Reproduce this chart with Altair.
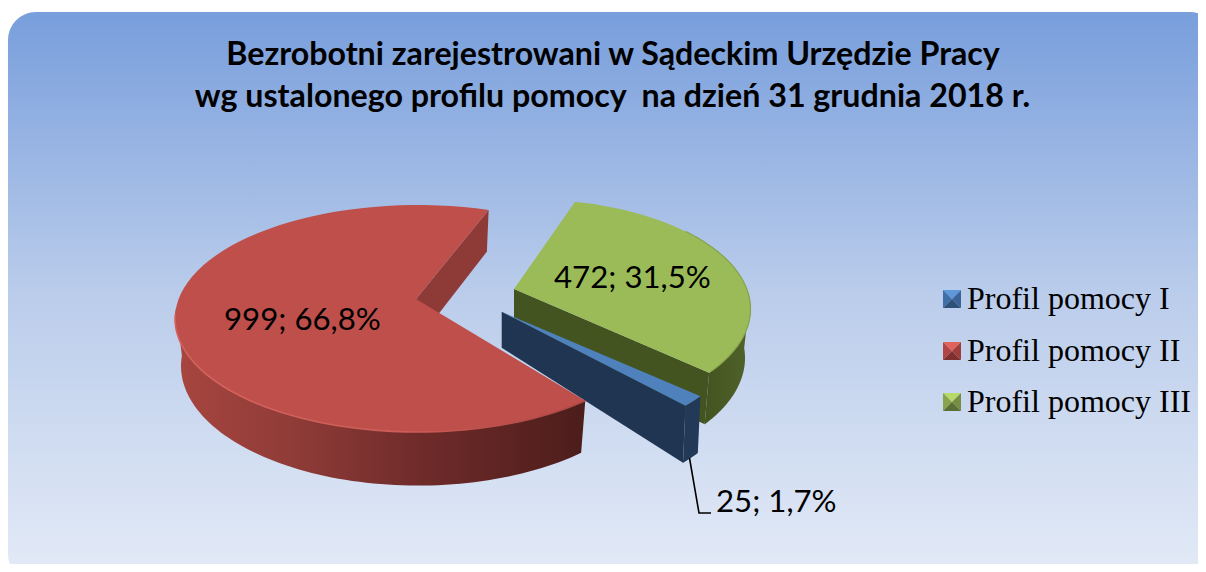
import numpy as np
import altair as alt

title_lines = ["Bezrobotni zarejestrowani w Sądeckim Urzędzie Pracy",
               "wg ustalonego profilu pomocy\u00a0 na dzień 31 grudnia 2018 r."]
series = ["Profil pomocy I", "Profil pomocy II", "Profil pomocy III"]
values = [25, 999, 472]
percents = ["1,7%", "66,8%", "31,5%"]

total = sum(values)
sweeps = [v / total * 360 for v in values]
labels = [f"{v}; {p}" for v, p in zip(values, percents)]

OX, OY = 8, 8
PROJ = dict(type="identity", scale=1, translate=[-OX, -OY])


def rim(e, t0, t1, n=80):
    t = np.radians(np.linspace(t0, t1, n))
    cx, cy, rx, ry = e
    return list(zip(cx + rx * np.sin(t), cy - ry * np.cos(t)))


def pts(p):
    return [[float(a), float(b)] for a, b in p]


def poly(p, fill, **kw):
    p = pts(p)
    p.append(p[0])
    feat = {"type": "Feature", "properties": {}, "geometry": {"type": "Polygon", "coordinates": [p]}}
    return alt.Chart(alt.Data(values=[feat])).mark_geoshape(fill=fill, strokeWidth=0, **kw).project(**PROJ)


def line(p, color, width, **kw):
    feat = {"type": "Feature", "properties": {}, "geometry": {"type": "LineString", "coordinates": pts(p)}}
    return alt.Chart(alt.Data(values=[feat])).mark_geoshape(
        filled=False, stroke=color, strokeWidth=width, **kw).project(**PROJ)


def grad(stops, x2=1, y2=0):
    return {"gradient": "linear", "x1": 0, "y1": 0, "x2": x2, "y2": y2,
            "stops": [{"offset": o, "color": c} for o, c in stops]}


def text(s, x, y, size, font, weight="normal", align="left"):
    return alt.Chart(alt.Data(values=[{"a": 1}])).mark_text(
        font=font, fontSize=size, fontWeight=weight, align=align, baseline="alphabetic", color="#000000"
    ).encode(x=alt.value(x - OX), y=alt.value(y - OY), text=alt.value(s))


bg = alt.Chart(alt.Data(values=[{"a": 1}])).mark_rect(
    clip=True, cornerRadius=28,
    fill=grad([(0, "#789EDC"), (0.5, "#BBCDEB"), (1, "#E4EBF7")], x2=0, y2=1),
).encode(x=alt.value(0), x2=alt.value(1210), y=alt.value(4), y2=alt.value(574))

# ---- slices: top-face ellipse, bottom ellipse, apex, start angle
red_t, red_b = (418, 318.5, 243, 113.5), (418, 366, 237, 119.6)
red_apex = (416, 299)
red_s = 136.5
red_e = red_s + sweeps[1]

grn_t, grn_b = (529, 309, 221.5, 109.6), (529, 358, 216, 114)
grn_apex = (514, 289)
grn_s = 12
grn_e = grn_s + sweeps[2]

blu_t, blu_b = (504, 333, 237, 113), (503, 387, 235, 118)
blu_apex = (501.7, 311.7)
blu_s = 124
blu_e = blu_s + sweeps[0]


def below(p, d):
    return (p[0], p[1] + d)


def at(e, t):
    return rim(e, t, t, 1)[0]


layers = [bg]

# green
layers.append(poly([grn_apex, at(grn_t, grn_e), at(grn_b, grn_e), below(grn_apex, 44)], "#445421"))
layers.append(poly(rim(grn_t, 85, grn_e) + rim(grn_b, grn_e, 85),
                   grad([(0, "#445421"), (1, "#50622A")])))
layers.append(poly([grn_apex] + rim(grn_t, grn_s, grn_e), "#9BBB59"))
layers.append(line(rim(grn_t, 45, grn_e - 1), "#86A34C", 1.2))

# red radial wall in the notch
layers.append(poly([red_apex, at(red_t, red_e), at(red_b, red_e), below(red_apex, 44)], "#8E3B38"))

# blue
layers.append(poly([blu_apex, at(blu_t, blu_e), at(blu_b, blu_e), below(blu_apex, 36)], "#1F3552"))
layers.append(poly(rim(blu_t, blu_s, blu_e) + rim(blu_b, blu_e, blu_s), "#223A58"))
layers.append(poly([blu_apex] + rim(blu_t, blu_s, blu_e), "#4F81BD"))

# red outer wall and face
layers.append(poly(rim(red_t, red_s, 275) + rim(red_b, 275, red_s),
                   grad([(0, "#A8453F"), (0.3, "#8E3B37"), (0.6, "#6F2B2A"), (1, "#4C1D1B")])))
layers.append(poly([red_apex] + rim(red_t, red_s, red_e), "#BE4F4B"))
layers.append(line(rim(red_t, red_s, 272),
                   grad([(0, "#D2635D"), (0.55, "#CC5D57"), (1, "#A84642")]), 1.6))

# leader line
layers.append(line([(689.5, 458), (699, 513), (711, 513)], "#000000", 1.6))

# title and data labels
BODY = "Lato"
layers.append(text(title_lines[0], 613, 65, 32.2, BODY, "bold", "center"))
layers.append(text(title_lines[1], 612.5, 107, 32.2, BODY, "bold", "center"))
layers.append(text(labels[1], 224, 330, 31.2, BODY))
layers.append(text(labels[2], 554, 288, 31.2, BODY))
layers.append(text(labels[0], 716, 512, 31.2, BODY))

# legend
legend_y = [299, 351, 402]
legend_cols = [("#5F98DA", "#3F6FA8", "#3A6499", "#2F5078"),
               ("#E2625E", "#B04543", "#9E3D3A", "#7F302E"),
               ("#B6D96A", "#87A34C", "#768E42", "#5A6F33")]
for name, yc, (c_top, c_left, c_right, c_bot) in zip(series, legend_y, legend_cols):
    x0, x1, y0, y1 = 943, 961, yc - 9, yc + 9
    mid = (952, yc)
    layers.append(poly([(x0, y0), (x1, y0), mid], c_top))
    layers.append(poly([(x0, y0), (x0, y1), mid], c_left))
    layers.append(poly([(x1, y0), (x1, y1), mid], c_right))
    layers.append(poly([(x0, y1), (x1, y1), mid], c_bot))
    layers.append(text(name, 967, yc + 9.5, 32, "Liberation Serif"))

chart = alt.layer(*layers).properties(
    width=1190, height=556, padding=0,
    autosize=alt.AutoSizeParams(type="none"), background="#FFFFFF"
).configure_view(stroke=None)

chart.save("out.html", embed_options={"renderer": "svg", "actions": False})
